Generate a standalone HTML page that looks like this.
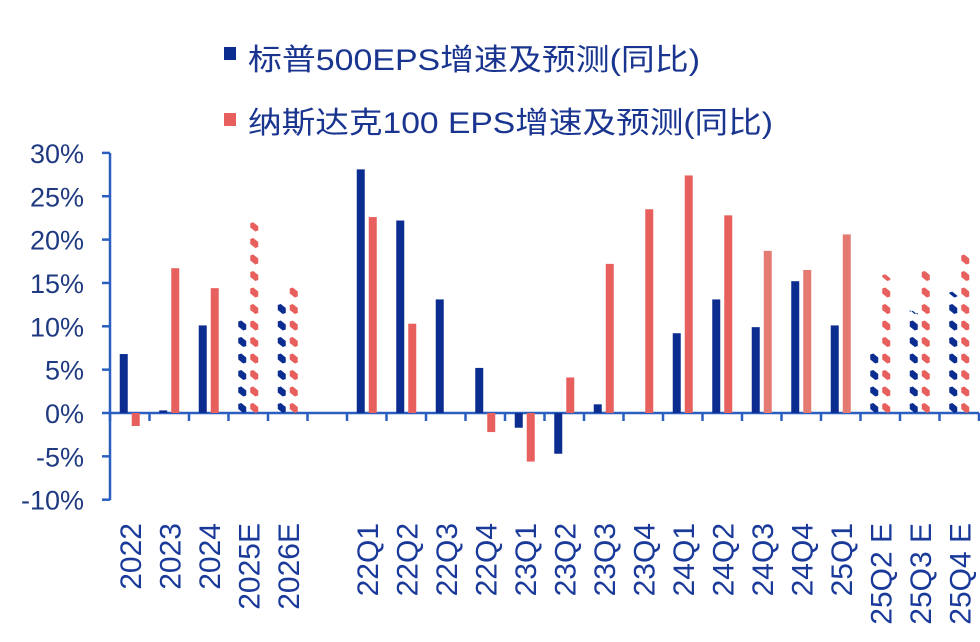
<!DOCTYPE html>
<html><head><meta charset="utf-8"><style>
html,body{margin:0;padding:0;background:#fff;}
svg{display:block;}
</style></head><body>
<svg id="c" width="980" height="642" viewBox="0 0 980 642" xmlns="http://www.w3.org/2000/svg">
<rect width="980" height="642" fill="#fff"/>
<rect x="224" y="47" width="12" height="13" fill="#0a2d8f"/>
<text x="248" y="70" font-family="Liberation Sans, Noto Sans CJK SC, sans-serif" font-size="30" fill="#1a3590" textLength="452" lengthAdjust="spacingAndGlyphs">标普500EPS增速及预测(同比)</text>
<rect x="224" y="113" width="12" height="13" fill="#e8605e"/>
<text x="248" y="133" font-family="Liberation Sans, Noto Sans CJK SC, sans-serif" font-size="30" fill="#1a3590" textLength="525" lengthAdjust="spacingAndGlyphs">纳斯达克100 EPS增速及预测(同比)</text>
<g id="g"></g>
</svg>
<script>
var g=document.getElementById('g'),h='';
function Y(v){return 413-v*8.67;}
var ax='#2a5fc0';
h+='<line x1="110" y1="153" x2="110" y2="500" stroke="'+ax+'" stroke-width="2.5"/>';
for(var v=30;v>=-10;v-=5){var y=Y(v);h+='<line x1="102" y1="'+y+'" x2="110" y2="'+y+'" stroke="'+ax+'" stroke-width="2.5"/>';
h+='<text x="84" y="'+(y+10)+'" text-anchor="end" font-family="Liberation Sans, sans-serif" font-size="27" fill="#1f3a80">'+v+'%</text>';}
h+='<line x1="110" y1="413" x2="979" y2="413" stroke="'+ax+'" stroke-width="2.5"/>';
for(var i=0;i<=22;i++){var x=110+i*39.5;h+='<line x1="'+x+'" y1="413" x2="'+x+'" y2="421" stroke="'+ax+'" stroke-width="2.5"/>';}
var d=[["2022",6.8,-1.5],["2023",0.3,16.7],["2024",10.1,14.4],["2025E",11.5,22,1],["2026E",13,14.5,1],null,
["22Q1",28.1,22.6],["22Q2",22.2,10.3],["22Q3",13.1,0],["22Q4",5.2,-2.2],["23Q1",-1.7,-5.6],["23Q2",-4.7,4.1],["23Q3",1.0,17.2],["23Q4",0,23.5],
["24Q1",9.2,27.4],["24Q2",13.1,22.8],["24Q3",9.9,18.7,0,1],["24Q4",15.2,16.5,0,1],["25Q1",10.1,20.6,0,1],["25Q2 E",7,16,1],["25Q3 E",11.8,17,1],["25Q4 E",14,18.4,1]];
function bar(x,v,c){var y=Math.min(Y(v),413),hh=Math.abs(v*8.67);if(hh<0.5)return;h+='<rect x="'+x+'" y="'+y+'" width="8" height="'+hh+'" fill="'+c+'"/>';}
function hat(x,v,c){var top=Y(v);for(var y=412;y>top+2;y-=16.5){var t=Math.max(y-9,top);h+='<polygon points="'+x+','+(t+1)+' '+(x+3)+','+t+' '+(x+8)+','+(t+4)+' '+(x+8)+','+y+' '+(x+5)+','+(y+1)+' '+x+','+(y-3)+'" fill="'+c+'"/>';}}
for(var i=0;i<d.length;i++){var e=d[i];if(!e)continue;var cx=110+(i+0.5)*39.5;
var rc=e[4]?'#e47a72':'#e8605e';
if(e[3]){hat(cx-10,e[1],'#0a2d8f');hat(cx+2,e[2],'#e8605e');}
else{bar(cx-10,e[1],'#0a2d8f');bar(cx+2,e[2],rc);}
h+='<text transform="translate('+(cx+11)+',523) rotate(-90)" text-anchor="end" font-family="Liberation Sans, sans-serif" font-size="30" fill="#1a3a9a">'+e[0]+'</text>';}
g.innerHTML=h;
</script>
</body></html>
